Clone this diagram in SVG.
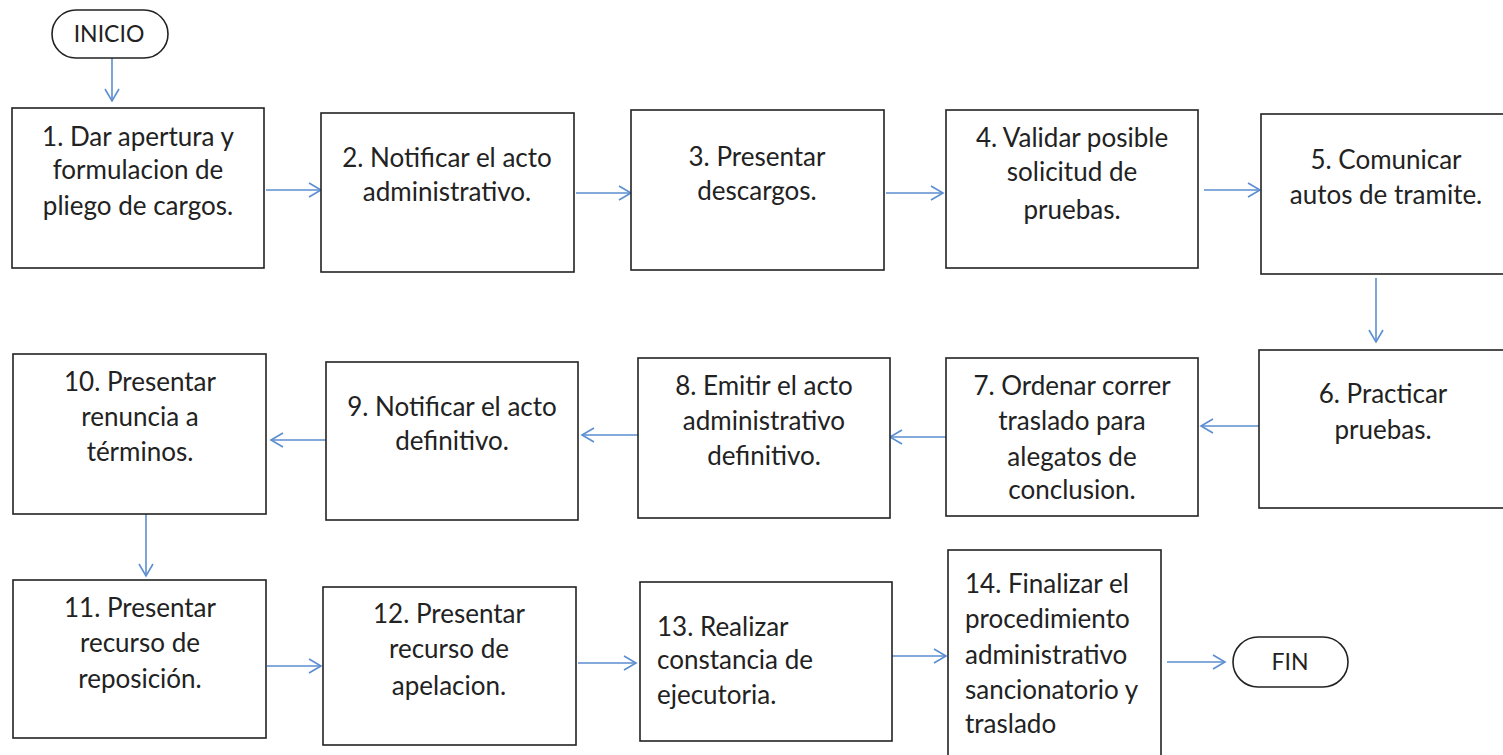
<svg xmlns="http://www.w3.org/2000/svg" width="1503" height="755" viewBox="0 0 1503 755">
<defs>
<marker id="ah" viewBox="0 0 16 16" refX="14" refY="8" markerWidth="16" markerHeight="16" markerUnits="userSpaceOnUse" orient="auto">
<path d="M2,1 L14,8 L2,15" fill="none" stroke="#5b8ed0" stroke-width="1.6"/>
</marker>
<style>
.b{fill:#fff;stroke:#222;stroke-width:1.6}
.t{font-family:Lato,"Open Sans",sans-serif;font-size:26px;fill:#222;text-anchor:middle}
.l{text-anchor:start}
.s{font-size:23px}
.c{fill:none;stroke:#5b8ed0;stroke-width:1.6;marker-end:url(#ah)}
</style>
</defs>
<rect width="1503" height="755" fill="#fff"/>
<g id="connectors">
<line class="c" x1="112" y1="58" x2="112" y2="101"/>
<line class="c" x1="266" y1="190" x2="321" y2="190"/>
<line class="c" x1="576" y1="193" x2="631" y2="193"/>
<line class="c" x1="886" y1="193" x2="943" y2="193"/>
<line class="c" x1="1204" y1="190" x2="1260" y2="190"/>
<line class="c" x1="1376" y1="278" x2="1376" y2="342"/>
<line class="c" x1="1259" y1="426" x2="1201" y2="426"/>
<line class="c" x1="946" y1="437" x2="890" y2="437"/>
<line class="c" x1="638" y1="435" x2="582" y2="435"/>
<line class="c" x1="330" y1="440" x2="271" y2="440"/>
<line class="c" x1="146" y1="514" x2="146" y2="576"/>
<line class="c" x1="267" y1="666" x2="321" y2="666"/>
<line class="c" x1="578" y1="663" x2="636" y2="663"/>
<line class="c" x1="892" y1="656" x2="946" y2="656"/>
<line class="c" x1="1167" y1="662" x2="1225" y2="662"/>
</g>
<g id="inicio"><rect class="b" x="52" y="10" width="116" height="48" rx="24"/><text class="t s" x="109" y="42">INICIO</text></g>
<g id="n1"><rect class="b" x="12" y="108" width="252" height="160"/><text class="t" x="138" y="146">1. Dar apertura y</text><text class="t" x="138" y="179">formulacion de</text><text class="t" x="138" y="215">pliego de cargos.</text></g>
<g id="n2"><rect class="b" x="321" y="113" width="253" height="159"/><text class="t" x="447" y="167">2. Notificar el acto</text><text class="t" x="447" y="201">administrativo.</text></g>
<g id="n3"><rect class="b" x="631" y="110" width="253" height="160"/><text class="t" x="757" y="166">3. Presentar</text><text class="t" x="757" y="200">descargos.</text></g>
<g id="n4"><rect class="b" x="946" y="110" width="252" height="158"/><text class="t" x="1072" y="147">4. Validar posible</text><text class="t" x="1072" y="181">solicitud de</text><text class="t" x="1072" y="219">pruebas.</text></g>
<g id="n5"><rect class="b" x="1261" y="114" width="244" height="160"/><text class="t" x="1386" y="169">5. Comunicar</text><text class="t" x="1386" y="204">autos de tramite.</text></g>
<g id="n6"><rect class="b" x="1259" y="350" width="246" height="158"/><text class="t" x="1383" y="403">6. Practicar</text><text class="t" x="1383" y="439">pruebas.</text></g>
<g id="n7"><rect class="b" x="946" y="358" width="252" height="158"/><text class="t" x="1072" y="395">7. Ordenar correr</text><text class="t" x="1072" y="430">traslado para</text><text class="t" x="1072" y="466">alegatos de</text><text class="t" x="1072" y="499">conclusion.</text></g>
<g id="n8"><rect class="b" x="638" y="358" width="252" height="160"/><text class="t" x="764" y="395">8. Emitir el acto</text><text class="t" x="764" y="430">administrativo</text><text class="t" x="764" y="465">definitivo.</text></g>
<g id="n9"><rect class="b" x="326" y="362" width="252" height="158"/><text class="t" x="452" y="416">9. Notificar el acto</text><text class="t" x="452" y="450">definitivo.</text></g>
<g id="n10"><rect class="b" x="13" y="354" width="253" height="160"/><text class="t" x="140" y="391">10. Presentar</text><text class="t" x="140" y="426">renuncia a</text><text class="t" x="140" y="461">términos.</text></g>
<g id="n11"><rect class="b" x="13" y="580" width="253" height="158"/><text class="t" x="140" y="617">11. Presentar</text><text class="t" x="140" y="652">recurso de</text><text class="t" x="140" y="688">reposición.</text></g>
<g id="n12"><rect class="b" x="323" y="587" width="253" height="158"/><text class="t" x="449" y="623">12. Presentar</text><text class="t" x="449" y="658">recurso de</text><text class="t" x="449" y="695">apelacion.</text></g>
<g id="n13"><rect class="b" x="640" y="582" width="252" height="159"/><text class="t l" x="657" y="636">13. Realizar</text><text class="t l" x="657" y="669">constancia de</text><text class="t l" x="657" y="704">ejecutoria.</text></g>
<g id="n14"><rect class="b" x="948" y="550" width="213" height="210"/><text class="t l" x="965" y="593">14. Finalizar el</text><text class="t l" x="965" y="628">procedimiento</text><text class="t l" x="965" y="664">administrativo</text><text class="t l" x="965" y="699">sancionatorio y</text><text class="t l" x="965" y="733">traslado</text></g>
<g id="fin"><rect class="b" x="1233" y="637" width="115" height="50" rx="25"/><text class="t s" x="1290" y="670">FIN</text></g>
</svg>
